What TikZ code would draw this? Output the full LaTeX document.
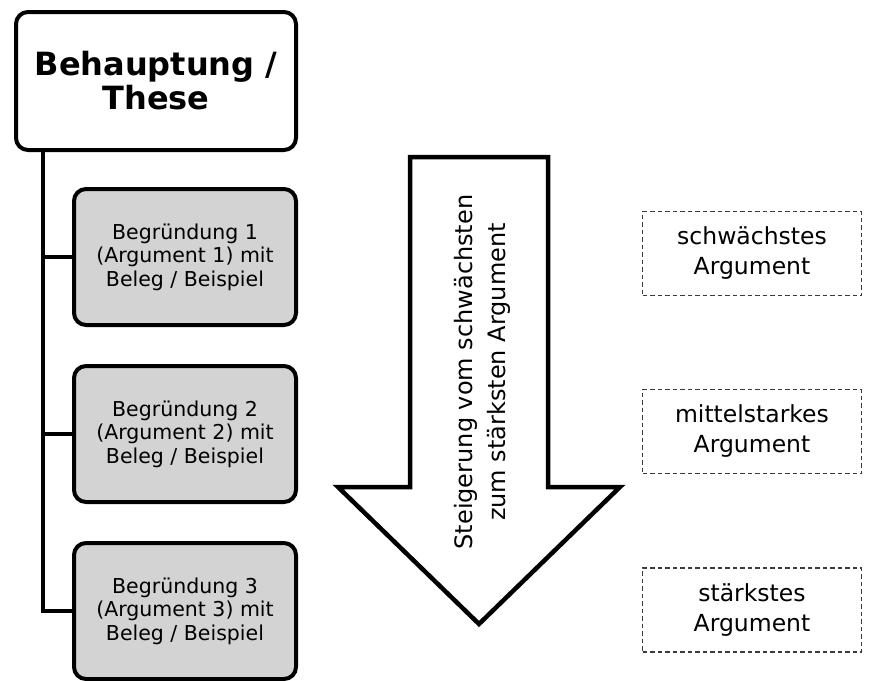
\documentclass[tikz,border=0pt]{standalone}
\usepackage{fontspec}
\setmainfont{DejaVu Sans}
\usepackage{tikz}
\definecolor{boxgray}{HTML}{D3D3D3}
\definecolor{dashgray}{HTML}{3A3A3A}

\begin{document}
\begin{tikzpicture}[x=1pt, y=-1pt,
	thesebox/.style={draw, line width=4pt, rounded corners=12pt, fill=white, align=center, minimum width=280pt, minimum height=138pt, font=\bfseries\fontsize{32}{34}\selectfont},
	begbox/.style={draw, line width=4pt, rounded corners=12pt, fill=boxgray, align=center, minimum width=222pt, minimum height=136pt, font=\fontsize{20.5}{23.5}\selectfont},
	argbox/.style={draw=dashgray, line width=1.2pt, dash pattern=on 4.5pt off 3pt, align=center, minimum width=219pt, minimum height=84pt, font=\fontsize{23.5}{30}\selectfont},
	conn/.style={line width=4pt}]
	\useasboundingbox (0,0) rectangle (872,680);
	\coordinate (spine) at (43,0);
	\node[thesebox] (these) at (156,81) {Behauptung /\\These};
	\node[begbox] (beg1) at (185,257) {Begründung 1\\(Argument 1) mit\\Beleg / Beispiel};
	\node[begbox] (beg2) at (185,434) {Begründung 2\\(Argument 2) mit\\Beleg / Beispiel};
	\node[begbox] (beg3) at (185,611) {Begründung 3\\(Argument 3) mit\\Beleg / Beispiel};
	\draw[conn] (these.south -| spine) |- (beg3.west);
	\draw[conn] (beg1.west -| spine) -- (beg1.west);
	\draw[conn] (beg2.west -| spine) -- (beg2.west);
	% Pfeil
	\draw[line width=4.5pt, fill=white] (410,157) -- (548,157) -- (548,487) -- (620,487) -- (479,624) -- (338,487) -- (410,487) -- cycle;
	\node[rotate=90, align=center, font=\fontsize{24}{33}\selectfont] (steig) at (482,372) {Steigerung vom schwächsten\\zum stärksten Argument};
	\node[argbox] (arg1) at (752,253.5) {schwächstes\\Argument};
	\node[argbox] (arg2) at (752,431.5) {mittelstarkes\\Argument};
	\node[argbox] (arg3) at (752,610) {stärkstes\\Argument};
\end{tikzpicture}
\end{document}
